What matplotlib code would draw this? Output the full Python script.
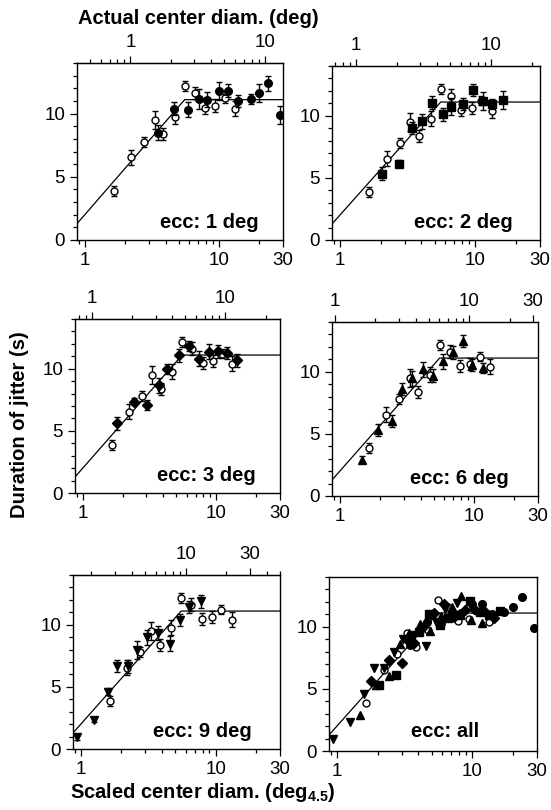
import numpy as np
import matplotlib.pyplot as plt
from matplotlib.ticker import FixedLocator, FuncFormatter, NullFormatter

plt.rcParams['font.family'] = ['Liberation Sans', 'DejaVu Sans']
plt.rcParams['mathtext.fontset'] = 'custom'
plt.rcParams['mathtext.rm'] = 'Liberation Sans'
plt.rcParams['mathtext.bf'] = 'Liberation Sans:bold'

# reference data (open circles, same in every panel)
open_x = [1.65, 2.21, 2.76, 3.32, 3.85, 4.68, 5.55, 6.6, 7.9, 9.4, 11.0, 13.2]
open_y = [3.85, 6.55, 7.78, 9.5, 8.38, 9.75, 12.15, 11.62, 10.48, 10.62, 11.2, 10.4]
open_err = [0.4, 0.6, 0.4, 0.7, 0.5, 0.6, 0.4, 0.5, 0.5, 0.5, 0.35, 0.6]

# ecc 1 deg (filled circles)
ecc1_x = [3.49, 4.64, 5.89, 7.11, 8.2, 10.0, 11.7, 13.9, 17.2, 19.8, 23.2, 28.3]
ecc1_y = [8.5, 10.4, 10.3, 11.17, 11.1, 11.8, 11.8, 11.0, 11.17, 11.6, 12.4, 9.9]
ecc1_err = [0.6, 0.5, 0.6, 0.8, 0.6, 0.7, 0.5, 0.5, 0.4, 0.7, 0.6, 0.7]

# ecc 2 deg (filled squares)
ecc2_x = [2.05, 2.71, 3.39, 4.05, 4.75, 5.74, 6.64, 8.04, 9.67, 11.3, 13.3, 16.0]
ecc2_y = [5.34, 6.15, 9.03, 9.57, 11.05, 10.1, 10.73, 10.92, 12.08, 11.19, 10.92, 11.27]
ecc2_err = [0.5, 0.3, 0.5, 0.6, 0.5, 0.5, 0.7, 0.5, 0.5, 0.7, 0.4, 0.7]

# ecc 3 deg (filled diamonds)
ecc3_x = [1.80, 2.43, 3.05, 3.72, 4.29, 5.23, 6.2, 7.36, 8.83, 10.3, 12.1, 14.4]
ecc3_y = [5.6, 7.35, 7.08, 8.65, 10.0, 11.08, 11.84, 10.81, 11.35, 11.4, 11.27, 10.67]
ecc3_err = [0.5, 0.3, 0.4, 0.6, 0.4, 0.5, 0.4, 0.6, 0.6, 0.5, 0.5, 0.5]

# ecc 6 deg (filled triangles)
ecc6_x = [1.47, 1.94, 2.44, 2.91, 3.43, 4.14, 4.91, 5.89, 7.03, 8.29, 9.72, 11.7]
ecc6_y = [2.93, 5.33, 6.03, 8.61, 9.49, 10.21, 9.68, 10.83, 11.55, 12.48, 10.56, 10.29]
ecc6_err = [0.3, 0.5, 0.5, 0.5, 0.6, 0.6, 0.5, 0.6, 0.5, 0.5, 0.5, 0.4]

# ecc 9 deg (filled inverted triangles)
ecc9_x = [0.93, 1.25, 1.59, 1.87, 2.22, 2.63, 3.07, 3.74, 4.57, 5.41, 6.31, 7.74]
ecc9_y = [0.94, 2.34, 4.62, 6.69, 6.64, 7.98, 9.0, 9.33, 8.47, 10.4, 11.42, 11.88]
ecc9_err = [0.2, 0.2, 0.3, 0.5, 0.5, 0.7, 0.6, 0.6, 0.6, 0.5, 0.5, 0.5]

# fitted line vertices
fit_x = [0.875, 5.55, 30]
fit_y = [1.29, 11.1, 11.1]

# scaled diam / actual diam for the top axes
top_factor = [2.19, 1.31, 1.17, 0.92, 0.6]

panel_labels = ['ecc: 1 deg', 'ecc: 2 deg', 'ecc: 3 deg', 'ecc: 6 deg', 'ecc: 9 deg', 'ecc: all']
series = [
    (ecc1_x, ecc1_y, ecc1_err, 'o'),
    (ecc2_x, ecc2_y, ecc2_err, 's'),
    (ecc3_x, ecc3_y, ecc3_err, 'D'),
    (ecc6_x, ecc6_y, ecc6_err, '^'),
    (ecc9_x, ecc9_y, ecc9_err, 'v'),
]

W, H = 551, 810
XMIN, XMAX = 0.875, 30
boxes = [(77, 63, 283, 240), (332, 66, 540, 240),
         (75, 319, 280, 493), (332, 322, 538, 496),
         (73, 575, 280, 749), (329, 577, 537, 751)]
label_pos = [(0.88, 0.10), (0.87, 0.10), (0.88, 0.10), (0.86, 0.10), (0.865, 0.10), (0.72, 0.11)]

fig = plt.figure(figsize=(W / 100, H / 100), dpi=100)

fmt = FuncFormatter(lambda v, p: f"{v:g}")
minor_bottom = [0.9, 2, 3, 4, 5, 6, 7, 8, 9, 20]
minor_top = [0.5, 0.6, 0.7, 0.8, 0.9, 2, 3, 4, 5, 6, 7, 8, 9, 20, 40, 50]
msize = {'o': 5.5, 's': 5.5, 'D': 5, '^': 6, 'v': 6}


def style(ax):
    ax.set_xscale('log')
    ax.set_xlim(XMIN, XMAX)
    ax.set_ylim(0, 14)
    ax.xaxis.set_major_locator(FixedLocator([1, 10, 30]))
    ax.xaxis.set_minor_locator(FixedLocator(minor_bottom))
    ax.xaxis.set_major_formatter(fmt)
    ax.xaxis.set_minor_formatter(NullFormatter())
    ax.set_yticks([0, 5, 10])
    ax.set_yticks(range(0, 15), minor=True)
    ax.tick_params(which='both', direction='out', width=0.9, labelsize=13.5)
    ax.tick_params(which='major', length=5)
    ax.tick_params(which='minor', length=3)
    for s in ax.spines.values():
        s.set_linewidth(1.0)


for i, (l, t, r, b) in enumerate(boxes):
    ax = fig.add_axes([l / W, 1 - b / H, (r - l) / W, (b - t) / H])
    style(ax)
    ax.plot(fit_x, fit_y, color='k', lw=0.9, zorder=1)
    if i < 5:
        f = top_factor[i]
        lo, hi = XMIN / f, XMAX / f
        sec = ax.secondary_xaxis('top', functions=(lambda x, f=f: x / f, lambda x, f=f: x * f))
        sec.xaxis.set_major_locator(FixedLocator([v for v in [1, 10, 30] if lo <= v <= hi * 1.01]))
        sec.xaxis.set_minor_locator(FixedLocator([v for v in minor_top if lo <= v <= hi]))
        sec.xaxis.set_major_formatter(fmt)
        sec.xaxis.set_minor_formatter(NullFormatter())
        sec.tick_params(which='both', direction='out', width=0.9, labelsize=13.5)
        sec.tick_params(which='major', length=5)
        sec.tick_params(which='minor', length=3)

        sx, sy, se, m = series[i]
        ax.errorbar(open_x, open_y, yerr=open_err, fmt='o', ms=5, mfc='white', mec='k',
                    mew=1.0, ecolor='k', elinewidth=1, capsize=2.5, capthick=1, zorder=3)
        ax.errorbar(sx, sy, yerr=se, fmt=m, ms=msize[m], mfc='k', mec='k',
                    ecolor='k', elinewidth=1, capsize=2.5, capthick=1, zorder=4)
    else:
        ax.plot(open_x, open_y, 'o', ms=5, mfc='white', mec='k', mew=1.0, zorder=3)
        for sx, sy, se, m in series:
            ax.plot(sx, sy, m, ms=msize[m], color='k', zorder=4)
    px, py = label_pos[i]
    ax.text(px, py, panel_labels[i], transform=ax.transAxes, ha='right', va='center',
            fontsize=14.5, fontweight='bold')

fig.text(198 / W, 1 - 18 / H, 'Actual center diam. (deg)', ha='center', va='center',
         fontsize=14.5, fontweight='bold')
fig.text(20 / W, 1 - 425 / H, 'Duration of jitter (s)', rotation=90, ha='center', va='center',
         fontsize=14.5, fontweight='bold')
fig.text(203 / W, 1 - 792 / H, r'Scaled center diam. (deg$_{\mathbf{4.5}}$)', ha='center',
         va='center', fontsize=14.5, fontweight='bold')

fig.savefig('out.png', dpi=100)
